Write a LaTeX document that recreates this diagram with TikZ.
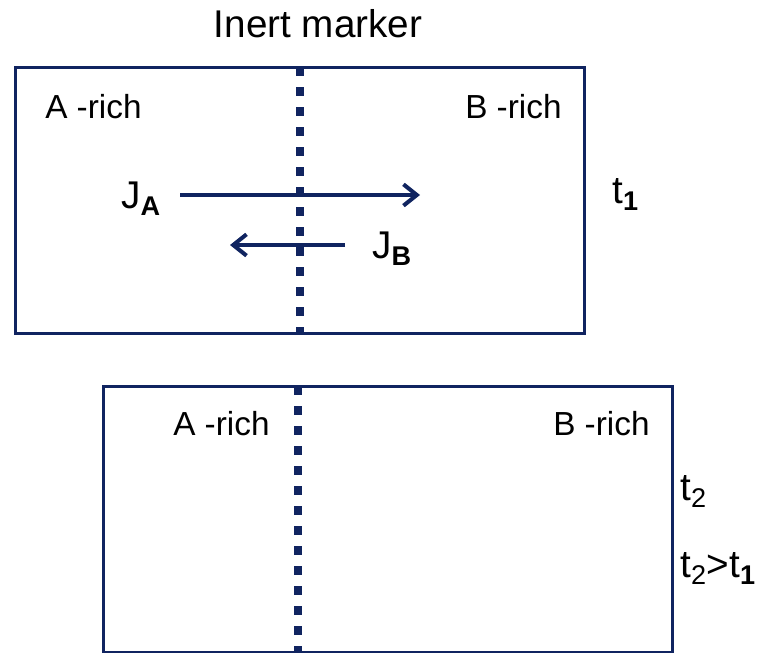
\documentclass[tikz,border=0pt]{standalone}
\usepackage{fontspec}
\setmainfont{Liberation Sans}
\usepackage{xcolor}
\usetikzlibrary{arrows.meta, positioning}

\definecolor{navy}{RGB}{16,36,96}
\tikzset{
  box/.style={draw=navy, line width=2.25pt},
  marker/.style={draw=navy, line width=6pt, dash pattern=on 6.75pt off 8.25pt},
  flux/.style={draw=navy, line width=3pt, -{Straight Barb[length=10pt, width=16pt, line width=3pt]}},
  label/.style={inner sep=0pt, font=\fontsize{25}{28}\selectfont},
  big/.style={inner sep=0pt, font=\fontsize{29}{32}\selectfont}
}

\begin{document}
\begin{tikzpicture}[x=0.75pt, y=-0.75pt]
      \useasboundingbox (0,0) rectangle (765,653);

      % Top box, time t1
      \draw[box] (15,67) rectangle (584,333);
      \coordinate (m1top) at (300,67);
      \coordinate (m1bot) at (300,333);
      \draw[marker] (m1top) -- (m1bot);

      \node[big, anchor=base] (inert) at (318,37) {Inert marker};
      \node[label, anchor=base west] (arich1) at (45,118) {A -rich};
      \node[label, anchor=base west] (brich1) at (465,118) {B -rich};

      \node[big, anchor=base west] (ja) at (121,208) {J\textsubscript{\bfseries A}};
      \node[big, anchor=base west] (jb) at (372,258) {J\textsubscript{\bfseries B}};
      \coordinate (jastart) at (180,195);
      \coordinate (jaend) at (420,195);
      \coordinate (jbstart) at (345,245);
      \coordinate (jbend) at (230,245);
      \draw[flux] (jastart) -- (jaend);
      \draw[flux] (jbstart) -- (jbend);

      \node[big, anchor=base west] (t1) at (612,203) {t\textsubscript{\bfseries 1}};

      % Bottom box, time t2
      \draw[box] (103,386) rectangle (672,652);
      \coordinate (m2top) at (298,386);
      \coordinate (m2bot) at (298,653);
      \draw[marker] (m2top) -- (m2bot);

      \node[label, anchor=base west] (arich2) at (173,435) {A -rich};
      \node[label, anchor=base west] (brich2) at (553,435) {B -rich};

      \node[big, anchor=base west] (t2) at (680,500) {t\textsubscript{2}};
      \node[big, anchor=base west] (t2t1) at (680,577) {t\textsubscript{2}>t\textsubscript{\bfseries 1}};
\end{tikzpicture}
\end{document}
